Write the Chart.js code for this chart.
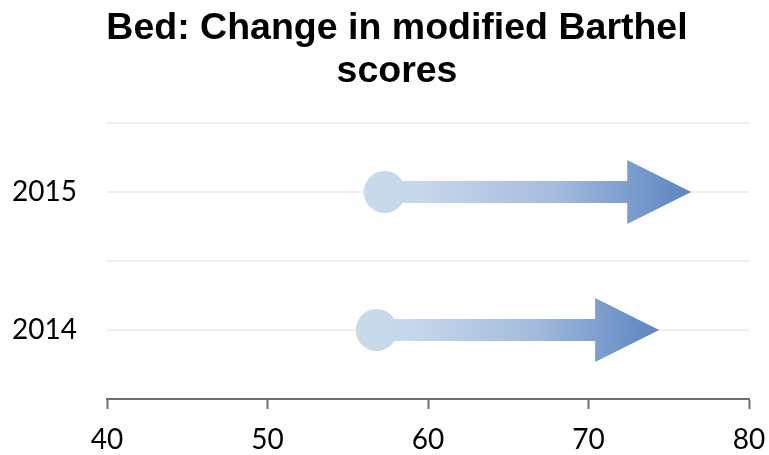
<!DOCTYPE html>
<html>
<head>
<meta charset="utf-8">
<script src="https://cdn.jsdelivr.net/npm/chart.js@4/dist/chart.umd.min.js"></script>
<style>
  html, body { margin: 0; padding: 0; background: #ffffff; }
  #wrap { width: 769px; height: 455px; }
</style>
</head>
<body>
<div id="wrap"><canvas id="chart" width="769" height="455"></canvas></div>
<script>
// Years shown on the vertical axis and the row each one sits on
const years = ['2014', '2015'];
const rowPositions = [1, 3];
// Modified Barthel score at the start and end of each year
const startScores = [56.8, 57.3];
const endScores = [74.4, 76.4];
// Horizontal axis range and step
const xMin = 40, xMax = 80, xStep = 10;

const titleLines = ['Bed: Change in modified Barthel', 'scores'];

// One two-point dataset per year: first point = start, second = end
const datasets = years.map((yr, i) => ({
  label: yr,
  data: [
    { x: startScores[i], y: rowPositions[i] },
    { x: endScores[i], y: rowPositions[i] }
  ],
  showLine: false,
  pointRadius: 0,
  pointHoverRadius: 0
}));

// Draws each year's change as a dot followed by a gradient arrow
const arrowPlugin = {
  id: 'changeArrows',
  afterDatasetsDraw(chart) {
    const ctx = chart.ctx;
    const dotRadius = 21;
    const shaftHalf = 11;
    const headHalf = 32;
    const headLen = 64;
    chart.data.datasets.forEach((ds, i) => {
      const pts = chart.getDatasetMeta(i).data;
      const x0 = pts[0].x, x1 = pts[1].x, y = pts[0].y;
      const grad = ctx.createLinearGradient(x0, 0, x1, 0);
      grad.addColorStop(0, '#C9D9EC');
      grad.addColorStop(0.12, '#C7D7EB');
      grad.addColorStop(0.55, '#A5BCDD');
      grad.addColorStop(1, '#5A85C0');
      ctx.save();
      ctx.fillStyle = '#C9D9EC';
      ctx.beginPath();
      ctx.arc(x0, y, dotRadius, 0, Math.PI * 2);
      ctx.fill();
      ctx.fillStyle = grad;
      ctx.beginPath();
      ctx.moveTo(x0, y - shaftHalf);
      ctx.lineTo(x1 - headLen, y - shaftHalf);
      ctx.lineTo(x1 - headLen, y - headHalf);
      ctx.lineTo(x1, y);
      ctx.lineTo(x1 - headLen, y + headHalf);
      ctx.lineTo(x1 - headLen, y + shaftHalf);
      ctx.lineTo(x0, y + shaftHalf);
      ctx.closePath();
      ctx.fill();
      ctx.restore();
    });
  }
};

// Two-line heading, centred a little right of the canvas middle
const headingPlugin = {
  id: 'heading',
  afterDraw(chart) {
    const ctx = chart.ctx;
    ctx.save();
    ctx.fillStyle = '#000000';
    ctx.font = 'bold 37.5px "Liberation Sans"';
    ctx.textAlign = 'center';
    ctx.textBaseline = 'alphabetic';
    const cx = 397;
    titleLines.forEach((line, i) => ctx.fillText(line, cx, 39 + i * 43));
    ctx.restore();
  }
};

const tickFont = { family: 'Lato', size: 28 };

new Chart(document.getElementById('chart'), {
  type: 'scatter',
  data: { datasets },
  plugins: [arrowPlugin, headingPlugin],
  options: {
    responsive: false,
    animation: false,
    events: [],
    layout: { padding: { left: 0, right: 20, top: 123, bottom: 0 } },
    plugins: {
      legend: { display: false },
      tooltip: { enabled: false },
      title: { display: false }
    },
    scales: {
      x: {
        type: 'linear',
        min: xMin,
        max: xMax,
        ticks: {
          stepSize: xStep,
          color: '#000000',
          font: tickFont,
          padding: 14
        },
        grid: {
          drawOnChartArea: false,
          drawTicks: true,
          tickLength: 10,
          tickColor: '#6E6E6E',
          tickWidth: 2
        },
        border: { display: true, color: '#6E6E6E', width: 2 },
        afterFit(scale) {
          scale.height = 56;
          scale.paddingLeft = 0;
          scale.paddingRight = 0;
        }
      },
      y: {
        type: 'linear',
        min: 0,
        max: 4,
        ticks: {
          stepSize: 1,
          color: '#000000',
          font: tickFont,
          padding: 30,
          callback(v) {
            const idx = rowPositions.indexOf(v);
            return idx >= 0 ? years[idx] : '';
          }
        },
        grid: {
          drawTicks: false,
          color: '#EFEFEF',
          lineWidth: 2
        },
        border: { display: false },
        afterFit(scale) { scale.width = 107; }
      }
    }
  }
});
</script>
</body>
</html>
